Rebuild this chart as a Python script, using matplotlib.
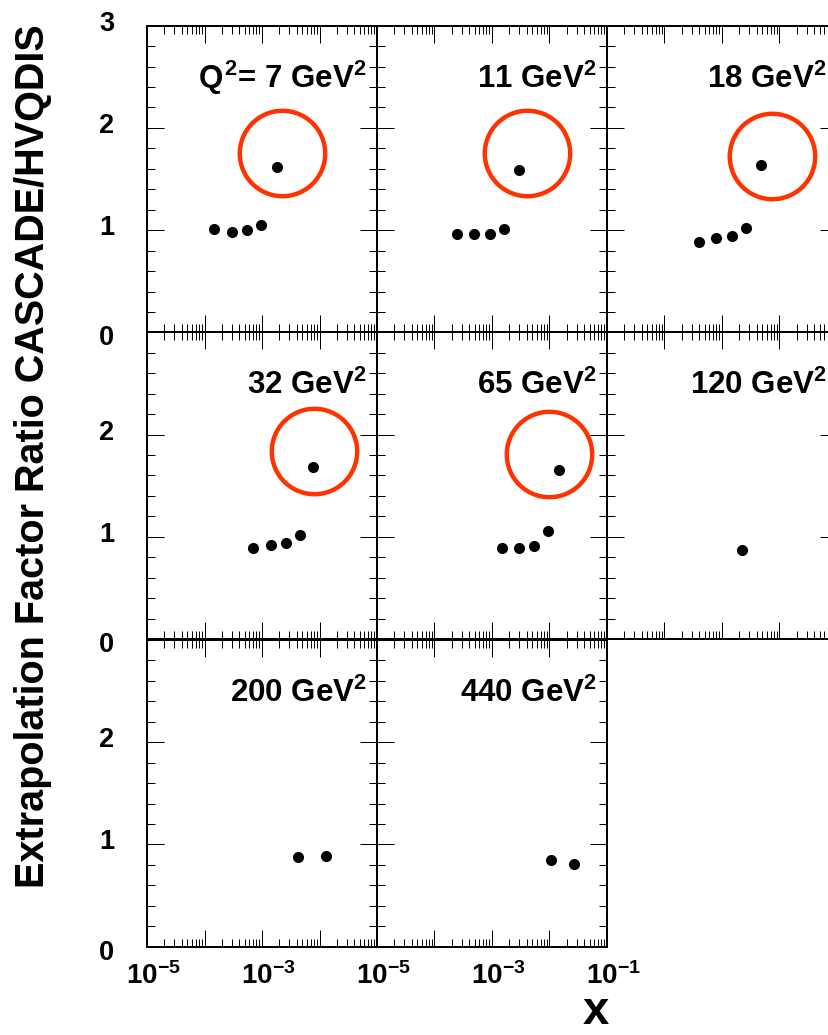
import numpy as np
import matplotlib
matplotlib.use("Agg")
import matplotlib.pyplot as plt
from matplotlib.ticker import LogLocator, FixedLocator, MultipleLocator, NullFormatter
from matplotlib.transforms import ScaledTranslation

plt.rcParams['font.family'] = ['Liberation Sans', 'DejaVu Sans']
plt.rcParams['font.weight'] = 'bold'
plt.rcParams['mathtext.fontset'] = 'custom'
plt.rcParams['mathtext.rm'] = 'Liberation Sans:bold'
plt.rcParams['mathtext.it'] = 'Liberation Sans:bold'
plt.rcParams['mathtext.bf'] = 'Liberation Sans:bold'
plt.rcParams['mathtext.sf'] = 'Liberation Sans:bold'

# ---------------- data ----------------
q2_labels = [r'$Q^{2}$= 7 GeV$^{2}$', r'11 GeV$^{2}$', r'18 GeV$^{2}$',
             r'32 GeV$^{2}$', r'65 GeV$^{2}$', r'120 GeV$^{2}$',
             r'200 GeV$^{2}$', r'440 GeV$^{2}$']

x_q7 = [1.48e-4, 3.04e-4, 5.55e-4, 9.7e-4, 1.82e-3]
r_q7 = [1.008, 0.984, 1.001, 1.050, 1.614]
x_q11 = [2.46e-4, 4.92e-4, 9.3e-4, 1.6e-3, 2.98e-3]
r_q11 = [0.959, 0.962, 0.959, 1.015, 1.588]
x_q18 = [3.98e-4, 7.96e-4, 1.51e-3, 2.58e-3, 4.71e-3]
r_q18 = [0.881, 0.926, 0.942, 1.018, 1.637]
x_q32 = [7.1e-4, 1.43e-3, 2.6e-3, 4.6e-3, 7.7e-3]
r_q32 = [0.886, 0.921, 0.937, 1.022, 1.683]
x_q65 = [1.49e-3, 2.95e-3, 5.45e-3, 9.3e-3, 1.48e-2]
r_q65 = [0.889, 0.889, 0.908, 1.052, 1.657]
x_q120 = [2.23e-3]
r_q120 = [0.869]
x_q200 = [4.3e-3, 1.3e-2]
r_q200 = [0.880, 0.885]
x_q440 = [1.07e-2, 2.7e-2]
r_q440 = [0.845, 0.805]

xs = [x_q7, x_q11, x_q18, x_q32, x_q65, x_q120, x_q200, x_q440]
rs = [r_q7, r_q11, r_q18, r_q32, r_q65, r_q120, r_q200, r_q440]

# hand-drawn highlight circles (centre in data units), first five panels
highlight_x = [2.23e-3, 4.06e-3, 7.5e-3, 7.89e-3, 9.68e-3]
highlight_y = [1.757, 1.751, 1.728, 1.839, 1.813]

x_major = [1e-5, 1e-4, 1e-3, 1e-2, 1e-1]
x_ticklabels = [r'$10^{-5}$', '', r'$10^{-3}$', '', r'$10^{-1}$']
y_major = [0, 1, 2, 3]

# ---------------- layout ----------------
W, H = 829, 1035
fig = plt.figure(figsize=(W / 100, H / 100), dpi=100)
col_left = [147, 377, 607]
row_top = [25.7, 332.3, 640.0]
pw, ph = 230.0, 306.7

px = 0.72  # points per pixel

for i, lab in enumerate(q2_labels):
    r, c = divmod(i, 3)
    ax = fig.add_axes([col_left[c] / W, 1 - (row_top[r] + ph) / H, pw / W, ph / H])
    ax.set_xscale('log')
    ax.set_xlim(1e-5, 1e-1)
    ax.set_ylim(0, 3)
    for sp in ax.spines.values():
        sp.set_linewidth(2 * px)
    ax.xaxis.set_major_locator(FixedLocator(x_major))
    ax.xaxis.set_minor_locator(LogLocator(base=10, subs=np.arange(2, 10), numticks=20))
    ax.xaxis.set_minor_formatter(NullFormatter())
    ax.yaxis.set_major_locator(FixedLocator(y_major))
    ax.yaxis.set_minor_locator(MultipleLocator(0.2))
    ax.tick_params(which='both', direction='in', top=True, right=True,
                   color='black', width=1.0 * px)
    ax.tick_params(which='major', length=17 * px)
    ax.tick_params(which='minor', length=8 * px)

    # x tick labels: bottom row only
    bottom_row = (i >= 6)
    if bottom_row:
        labs = list(x_ticklabels)
        if c == 0:
            labs[-1] = ''
        ax.set_xticklabels(labs)
        ax.tick_params(axis='x', which='major', labelsize=20, pad=11)
        for t in ax.get_xticklabels():
            t.set_transform(t.get_transform() + ScaledTranslation(6 / 100, 0, fig.dpi_scale_trans))
    else:
        ax.tick_params(axis='x', labelbottom=False)

    # y tick labels: left column only
    if c == 0:
        ylabs = ['0', '1', '2', '3'] if r == 0 else ['0', '1', '2', '']
        ax.set_yticklabels(ylabs)
        ax.tick_params(axis='y', which='major', labelsize=19.5, pad=33 * px)
        for t, v in zip(ax.get_yticklabels(), y_major):
            dy = 5 if v > 0 else -3
            t.set_transform(t.get_transform() + ScaledTranslation(0, dy / 100, fig.dpi_scale_trans))
    else:
        ax.tick_params(axis='y', labelleft=False)

    ax.plot(xs[i], rs[i], 'o', color='black', ms=8, mew=0, zorder=5)
    if i < len(highlight_x):
        ax.plot([highlight_x[i]], [highlight_y[i]], 'o', mfc='none', mec='#ff3300',
                ms=61.5, mew=3.2, zorder=4, clip_on=False)

    ax.text(1 - 10.5 / pw, 1 - 62 / ph, lab, transform=ax.transAxes,
            ha='right', va='baseline', fontsize=22.5, fontweight='bold')

fig.text(33 / W, 1 - 456 / H, 'Extrapolation Factor Ratio CASCADE/HVQDIS',
         rotation=90, ha='center', va='center', fontsize=28.5, fontweight='bold')
fig.text(596 / W, 1 / H, 'x', ha='center', va='bottom', fontsize=34, fontweight='bold')

fig.savefig('out.png', dpi=100)
